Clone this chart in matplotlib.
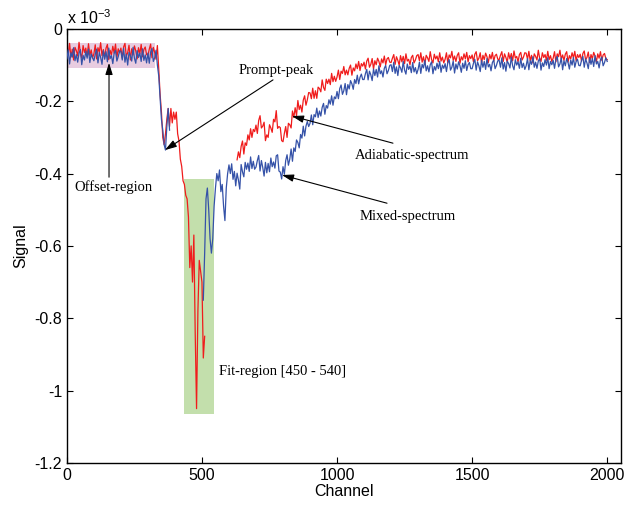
import numpy as np
import matplotlib
matplotlib.use('Agg')
import matplotlib.pyplot as plt
from matplotlib.patches import Rectangle
from matplotlib.ticker import FuncFormatter

nan = np.nan

# channel grid, one reading every 5 channels
channel = np.arange(0, 2001, 5)

# signal in units of 1e-3
adiabatic = [
    # 0 - 95
    -0.048, -0.072, -0.040, -0.078, -0.056, -0.086, -0.051, -0.060, -0.075, -0.037,
    -0.067, -0.081, -0.046, -0.065, -0.053, -0.076, -0.041, -0.073, -0.058, -0.080,
    # 100 - 195
    -0.069, -0.044, -0.083, -0.052, -0.064, -0.038, -0.074, -0.057, -0.078, -0.053,
    -0.043, -0.085, -0.059, -0.072, -0.048, -0.067, -0.042, -0.079, -0.055, -0.066,
    # 200 - 295
    -0.053, -0.081, -0.050, -0.040, -0.076, -0.066, -0.045, -0.086, -0.055, -0.072,
    -0.047, -0.061, -0.083, -0.052, -0.069, -0.043, -0.077, -0.057, -0.050, -0.071,
    # 300 - 395
    -0.074, -0.056, -0.042, -0.080, -0.051, -0.065, -0.084, -0.046, -0.11, -0.18,
    -0.23, -0.30, -0.32, -0.29, -0.25, -0.22, -0.27, -0.22, -0.26, -0.23,
    # 400 - 495
    -0.25, -0.23, -0.29, -0.31, -0.36, -0.38, -0.42, -0.43, -0.46, -0.47,
    -0.52, -0.66, -0.60, -0.70, -0.57, -0.84, -1.05, -0.78, -0.64, -0.67,
    # 500 - 595
    -0.70, -0.91, -0.85, nan, nan, nan, nan, nan, nan, nan,
    nan, nan, nan, nan, nan, nan, nan, nan, nan, nan,
    # 600 - 695
    nan, nan, nan, nan, nan, nan, -0.362, -0.340, -0.356, -0.325,
    -0.310, -0.346, -0.315, -0.322, -0.293, -0.307, -0.276, -0.300, -0.278, -0.284,
    # 700 - 795
    -0.266, -0.289, -0.253, -0.240, -0.274, -0.269, -0.258, -0.309, -0.293, -0.300,
    -0.265, -0.274, -0.286, -0.250, -0.257, -0.226, -0.275, -0.270, -0.273, -0.309,
    # 800 - 895
    -0.312, -0.289, -0.270, -0.300, -0.261, -0.265, -0.274, -0.227, -0.245, -0.218,
    -0.240, -0.198, -0.223, -0.211, -0.230, -0.197, -0.185, -0.211, -0.196, -0.176,
    # 900 - 995
    -0.177, -0.193, -0.164, -0.192, -0.171, -0.192, -0.161, -0.165, -0.174, -0.141,
    -0.162, -0.170, -0.139, -0.151, -0.139, -0.154, -0.123, -0.146, -0.131, -0.145,
    # 1000 - 1095
    -0.133, -0.114, -0.140, -0.117, -0.123, -0.104, -0.127, -0.114, -0.127, -0.109,
    -0.100, -0.128, -0.108, -0.116, -0.097, -0.110, -0.090, -0.115, -0.096, -0.103,
    # 1100 - 1195
    -0.092, -0.111, -0.089, -0.081, -0.106, -0.098, -0.082, -0.111, -0.088, -0.099,
    -0.081, -0.090, -0.105, -0.083, -0.094, -0.075, -0.099, -0.083, -0.079, -0.092,
    # 1200 - 1295
    -0.093, -0.081, -0.071, -0.098, -0.077, -0.087, -0.100, -0.074, -0.091, -0.076,
    -0.096, -0.069, -0.089, -0.084, -0.099, -0.079, -0.073, -0.094, -0.086, -0.074,
    # 1300 - 1395
    -0.071, -0.088, -0.066, -0.092, -0.077, -0.098, -0.073, -0.080, -0.090, -0.063,
    -0.085, -0.094, -0.070, -0.083, -0.075, -0.091, -0.066, -0.089, -0.078, -0.094,
    # 1400 - 1495
    -0.084, -0.066, -0.094, -0.072, -0.080, -0.062, -0.087, -0.075, -0.090, -0.073,
    -0.066, -0.095, -0.077, -0.086, -0.069, -0.083, -0.065, -0.091, -0.074, -0.082,
    # 1500 - 1595
    -0.072, -0.091, -0.070, -0.063, -0.088, -0.081, -0.066, -0.095, -0.073, -0.085,
    -0.067, -0.077, -0.093, -0.071, -0.083, -0.065, -0.089, -0.074, -0.070, -0.084,
    # 1600 - 1695
    -0.085, -0.073, -0.063, -0.090, -0.069, -0.079, -0.092, -0.066, -0.083, -0.068,
    -0.088, -0.061, -0.081, -0.076, -0.091, -0.071, -0.065, -0.086, -0.078, -0.066,
    # 1700 - 1795
    -0.067, -0.084, -0.062, -0.088, -0.073, -0.094, -0.069, -0.076, -0.086, -0.059,
    -0.081, -0.090, -0.066, -0.079, -0.071, -0.087, -0.062, -0.085, -0.074, -0.090,
    # 1800 - 1895
    -0.081, -0.063, -0.091, -0.069, -0.077, -0.059, -0.084, -0.072, -0.087, -0.070,
    -0.063, -0.092, -0.074, -0.083, -0.066, -0.080, -0.062, -0.088, -0.071, -0.079,
    # 1900 - 2000
    -0.070, -0.089, -0.068, -0.061, -0.086, -0.079, -0.064, -0.093, -0.071, -0.083,
    -0.065, -0.075, -0.091, -0.069, -0.081, -0.063, -0.087, -0.072, -0.068, -0.082,
    -0.085,
]

mixed = [
    # 0 - 95
    -0.083, -0.058, -0.097, -0.066, -0.078, -0.052, -0.088, -0.071, -0.092, -0.067,
    -0.057, -0.099, -0.073, -0.086, -0.062, -0.081, -0.056, -0.093, -0.069, -0.080,
    # 100 - 195
    -0.088, -0.070, -0.056, -0.094, -0.065, -0.079, -0.098, -0.060, -0.084, -0.063,
    -0.091, -0.053, -0.082, -0.074, -0.096, -0.067, -0.059, -0.089, -0.077, -0.061,
    # 200 - 295
    -0.062, -0.086, -0.054, -0.092, -0.070, -0.100, -0.065, -0.074, -0.089, -0.051,
    -0.081, -0.095, -0.060, -0.079, -0.067, -0.090, -0.055, -0.087, -0.072, -0.094,
    # 300 - 395
    -0.067, -0.095, -0.064, -0.054, -0.090, -0.080, -0.059, -0.100, -0.13, -0.19,
    -0.25, -0.28, -0.32, -0.335, -0.27, -0.22, -0.28, nan, nan, nan,
    # 400 - 495
    nan, nan, nan, nan, nan, nan, nan, nan, nan, nan,
    nan, nan, nan, nan, nan, nan, nan, nan, nan, nan,
    # 500 - 595
    nan, -0.75, -0.62, -0.47, -0.44, -0.50, -0.58, -0.62, -0.58, -0.49,
    -0.44, -0.40, -0.42, -0.39, -0.45, -0.43, -0.49, -0.53, -0.44, -0.40,
    # 600 - 695
    -0.376, -0.400, -0.373, -0.416, -0.394, -0.434, -0.399, -0.418, -0.443, -0.375,
    -0.395, -0.409, -0.369, -0.388, -0.371, -0.394, -0.354, -0.386, -0.366, -0.388,
    # 700 - 795
    -0.382, -0.364, -0.350, -0.393, -0.364, -0.383, -0.407, -0.369, -0.398, -0.372,
    -0.395, -0.357, -0.381, -0.368, -0.385, -0.351, -0.348, -0.393, -0.396, -0.415,
    # 800 - 895
    -0.381, -0.402, -0.364, -0.348, -0.377, -0.360, -0.332, -0.366, -0.329, -0.339,
    -0.307, -0.314, -0.329, -0.292, -0.302, -0.269, -0.296, -0.269, -0.256, -0.270,
    # 900 - 995
    -0.261, -0.238, -0.265, -0.237, -0.243, -0.219, -0.245, -0.227, -0.241, -0.217,
    -0.206, -0.236, -0.212, -0.219, -0.196, -0.208, -0.185, -0.211, -0.188, -0.193,
    # 1000 - 1095
    -0.173, -0.193, -0.165, -0.155, -0.181, -0.171, -0.151, -0.182, -0.154, -0.166,
    -0.143, -0.152, -0.167, -0.140, -0.151, -0.128, -0.152, -0.134, -0.125, -0.140,
    # 1100 - 1195
    -0.140, -0.124, -0.112, -0.141, -0.117, -0.127, -0.143, -0.111, -0.129, -0.112,
    -0.133, -0.102, -0.124, -0.116, -0.133, -0.109, -0.101, -0.124, -0.115, -0.101,
    # 1200 - 1295
    -0.099, -0.118, -0.092, -0.123, -0.105, -0.129, -0.101, -0.108, -0.120, -0.090,
    -0.114, -0.125, -0.097, -0.112, -0.103, -0.121, -0.093, -0.119, -0.107, -0.124,
    # 1300 - 1395
    -0.112, -0.092, -0.123, -0.098, -0.108, -0.087, -0.116, -0.102, -0.119, -0.099,
    -0.091, -0.124, -0.104, -0.114, -0.095, -0.110, -0.090, -0.120, -0.100, -0.109,
    # 1400 - 1495
    -0.096, -0.118, -0.093, -0.085, -0.114, -0.106, -0.089, -0.122, -0.097, -0.111,
    -0.091, -0.102, -0.120, -0.095, -0.109, -0.088, -0.115, -0.099, -0.093, -0.110,
    # 1500 - 1595
    -0.110, -0.095, -0.084, -0.114, -0.091, -0.102, -0.118, -0.087, -0.106, -0.090,
    -0.112, -0.082, -0.105, -0.098, -0.116, -0.093, -0.086, -0.110, -0.101, -0.088,
    # 1600 - 1695
    -0.087, -0.106, -0.080, -0.111, -0.093, -0.117, -0.089, -0.096, -0.108, -0.078,
    -0.102, -0.113, -0.085, -0.100, -0.091, -0.109, -0.081, -0.107, -0.095, -0.112,
    # 1700 - 1795
    -0.102, -0.082, -0.113, -0.088, -0.098, -0.077, -0.106, -0.092, -0.109, -0.089,
    -0.081, -0.114, -0.094, -0.104, -0.085, -0.100, -0.080, -0.110, -0.090, -0.099,
    # 1800 - 1895
    -0.087, -0.109, -0.084, -0.076, -0.105, -0.097, -0.080, -0.113, -0.088, -0.102,
    -0.082, -0.093, -0.111, -0.086, -0.100, -0.079, -0.106, -0.090, -0.084, -0.101,
    # 1900 - 2000
    -0.102, -0.087, -0.076, -0.106, -0.083, -0.094, -0.110, -0.079, -0.098, -0.082,
    -0.104, -0.074, -0.097, -0.090, -0.108, -0.085, -0.078, -0.102, -0.093, -0.080,
    -0.090,
]

xticks = [0, 500, 1000, 1500, 2000]
yticks = [0, -0.2, -0.4, -0.6, -0.8, -1.0, -1.2]

plt.rcParams['font.family'] = ['Liberation Sans', 'DejaVu Sans']
plt.rcParams['axes.unicode_minus'] = False

fig = plt.figure(figsize=(6.25, 5.07), dpi=100)
ax = fig.add_axes([0.107, 0.087, 0.887, 0.856])

# shaded regions
ax.add_patch(Rectangle((0, -0.108), 326, 0.069, facecolor='#e8cce0',
                       edgecolor='none', zorder=1))
ax.add_patch(Rectangle((433, -1.064), 111, 0.649, facecolor='#c3dfac',
                       edgecolor='none', zorder=1))

ax.plot(channel, adiabatic, color='#f01c1c', lw=0.9, zorder=2)
ax.plot(channel, mixed, color='#3552a8', lw=0.9, zorder=3)

ax.set_xlim(0, 2052)
ax.set_ylim(-1.2, 0)
ax.set_xticks(xticks)
ax.set_yticks(yticks)
ax.yaxis.set_major_formatter(FuncFormatter(lambda v, p: '%g' % v))
ax.tick_params(direction='in', top=True, right=True, length=4,
               labelsize=11.5, width=0.8)
for s in ax.spines.values():
    s.set_linewidth(1.0)
ax.set_xlabel('Channel', fontsize=11.5, labelpad=1)
ax.set_ylabel('Signal', fontsize=11.5, labelpad=4)
ax.text(0.0, 1.005, r'x 10$^{\mathregular{-3}}$', transform=ax.transAxes,
        fontsize=11.5, ha='left', va='bottom')

# annotations
serif = dict(family='Liberation Serif', fontsize=10.5, color='k')
arr = dict(arrowstyle='-|>,head_length=0.7,head_width=0.22', color='k',
           lw=0.8, shrinkA=0, shrinkB=0)

ax.annotate('', xy=(156, -0.094), xytext=(156, -0.41), arrowprops=arr)
ax.text(174, -0.438, 'Offset-region', ha='center', va='center', **serif)

ax.annotate('', xy=(363, -0.335), xytext=(763, -0.141), arrowprops=arr)
ax.text(774, -0.114, 'Prompt-peak', ha='center', va='center', **serif)

ax.annotate('', xy=(833, -0.241), xytext=(1207, -0.316), arrowprops=arr)
ax.text(1278, -0.349, 'Adiabatic-spectrum', ha='center', va='center', **serif)

ax.annotate('', xy=(796, -0.404), xytext=(1185, -0.482), arrowprops=arr)
ax.text(1263, -0.52, 'Mixed-spectrum', ha='center', va='center', **serif)

ax.text(563, -0.947, 'Fit-region [450 - 540]', ha='left', va='center', **serif)

fig.savefig('out.png', dpi=100)
